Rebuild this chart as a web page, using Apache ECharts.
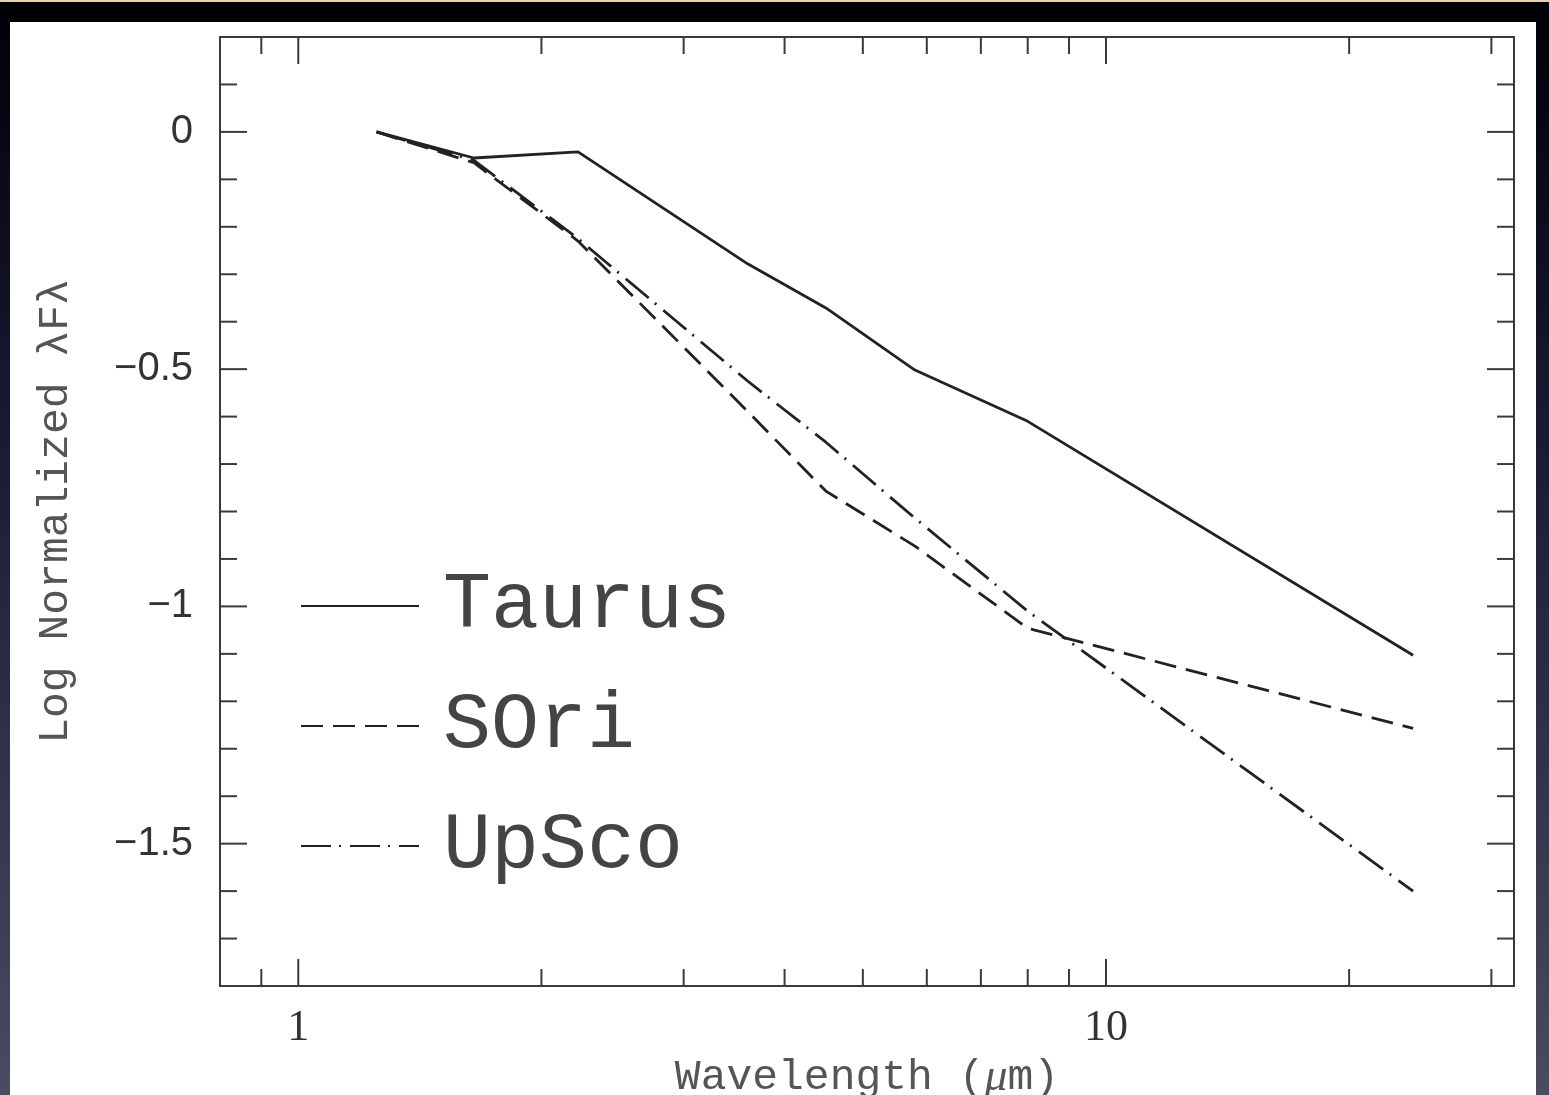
<!DOCTYPE html>
<html>
<head>
<meta charset="utf-8">
<script src="https://cdn.jsdelivr.net/npm/echarts@6/dist/echarts.min.js"></script>
<style>
  html, body { margin: 0; padding: 0; }
  #wrap { position: relative; width: 1549px; height: 1095px; overflow: hidden; background: #000; }
  #topline { position: absolute; left: 0; top: 0; width: 1549px; height: 2px; background: #e4d4aa; }
  #leftstrip { position: absolute; left: 0; top: 2px; width: 10px; height: 1093px; background: linear-gradient(#000008, #1a1a34 40%, #4a4a60); }
  #rightstrip { position: absolute; left: 1536px; top: 2px; width: 13px; height: 1093px; background: linear-gradient(#000008, #1a1a34 40%, #4a4a60); }
  #panel { position: absolute; left: 10px; top: 22px; width: 1526px; height: 1073px; background: #fff; }
  #chart { position: absolute; left: 0; top: 0; width: 1549px; height: 1095px; }
</style>
</head>
<body>
<div id="wrap">
  <div id="topline"></div>
  <div id="leftstrip"></div>
  <div id="rightstrip"></div>
  <div id="panel"></div>
  <div id="chart"></div>
</div>
<script>
// ---- data ----
const wavelengths = [1.25, 1.65, 2.22, 3.6, 4.5, 5.8, 8.0, 24];
const taurus = [0, -0.055, -0.042, -0.278, -0.371, -0.502, -0.61, -1.103];
const sori   = [0, -0.065, -0.23, -0.589, -0.757, -0.873, -1.046, -1.257];
const upsco  = [0, -0.06, -0.225, -0.525, -0.654, -0.814, -1.01, -1.6];
const seriesNames = ['Taurus', 'SOri', 'UpSco'];

const xTickValues = [0.9, 1, 2, 3, 4, 5, 6, 7, 8, 9, 10, 20, 30];
const xMajorTicks = [1, 10];
const yTickValues = [0.1, 0, -0.1, -0.2, -0.3, -0.4, -0.5, -0.6, -0.7, -0.8, -0.9, -1, -1.1, -1.2, -1.3, -1.4, -1.5, -1.6, -1.7];
const yMajorTicks = [0, -0.5, -1, -1.5];

const X_MIN = 0.8, X_MAX = 32, Y_MIN = -1.8, Y_MAX = 0.2;

// ---- tick data for custom series: [x, y, length, dir] ----
// dir: 0 = up from bottom, 1 = down from top, 2 = right from left, 3 = left from right
const tickData = [];
xTickValues.forEach(v => {
  const len = xMajorTicks.includes(v) ? 27 : 17;
  tickData.push([v, Y_MIN, len, 0]);
  tickData.push([v, Y_MAX, len, 1]);
});
yTickValues.forEach(v => {
  const len = yMajorTicks.some(m => Math.abs(m - v) < 1e-9) ? 27 : 17;
  tickData.push([X_MIN, v, len, 2]);
  tickData.push([X_MAX, v, len, 3]);
});

function pair(xs, ys) { return xs.map((x, i) => [x, ys[i]]); }

const lineColor = '#222';
const chart = echarts.init(document.getElementById('chart'), null, { renderer: 'canvas' });

chart.setOption({
  animation: false,
  backgroundColor: 'transparent',
  grid: {
    left: 220, top: 37, right: 35, bottom: 109,
    outerBoundsMode: 'none', containLabel: false,
    show: true, borderColor: '#3a3a3a', borderWidth: 2, backgroundColor: 'transparent'
  },
  legend: {
    orient: 'vertical',
    left: 295, top: 561,
    itemWidth: 118, itemHeight: 40, itemGap: 40,
    data: seriesNames,
    itemStyle: { opacity: 0 },
    textStyle: {
      fontFamily: 'Liberation Mono', fontSize: 80, lineHeight: 80,
      color: '#444', padding: [0, 0, 0, 19]
    }
  },
  xAxis: {
    type: 'log', logBase: 10, min: X_MIN, max: X_MAX,
    axisLine: { show: false },
    axisTick: { show: false },
    splitLine: { show: false },
    minorTick: { show: false },
    axisLabel: {
      margin: 20,
      fontFamily: 'Liberation Serif', fontSize: 44, color: '#333',
      showMinLabel: false, showMaxLabel: false,
      formatter: function (v) {
        const l = Math.log10(v);
        return Math.abs(l - Math.round(l)) < 1e-6 ? String(Math.round(v)) : '';
      }
    },
    name: '{a|Wavelength (}{b|μ}{a|m)}',
    nameLocation: 'middle', nameGap: 63,
    nameTextStyle: {
      rich: {
        a: { fontFamily: 'Liberation Mono', fontSize: 43, color: '#555' },
        b: { fontFamily: 'Liberation Serif', fontStyle: 'italic', fontSize: 46, color: '#555' }
      }
    }
  },
  yAxis: {
    type: 'value', min: Y_MIN, max: Y_MAX, interval: 0.1,
    axisLine: { show: false },
    axisTick: { show: false },
    splitLine: { show: false },
    axisLabel: {
      margin: 27,
      fontFamily: 'Liberation Sans', fontSize: 40, color: '#333',
      formatter: function (v) {
        if (Math.abs(v * 2 - Math.round(v * 2)) > 1e-6) return '';
        if (Math.abs(v) < 1e-9) return '0';
        const s = String(Math.round(v * 10) / 10);
        return s.replace('-', '\u2212');
      }
    },
    name: 'Log Normalized λFλ',
    nameLocation: 'middle', nameGap: 143,
    nameTextStyle: { fontFamily: 'Liberation Mono', fontSize: 43, color: '#555' }
  },
  series: [
    {
      name: 'Taurus', type: 'line', symbol: 'none', data: pair(wavelengths, taurus),
      lineStyle: { color: lineColor, width: 2.8, type: 'solid' }, itemStyle: { color: lineColor }
    },
    {
      name: 'SOri', type: 'line', symbol: 'none', data: pair(wavelengths, sori),
      lineStyle: { color: lineColor, width: 2.8, type: [22, 10] }, itemStyle: { color: lineColor }
    },
    {
      name: 'UpSco', type: 'line', symbol: 'none', data: pair(wavelengths, upsco),
      lineStyle: { color: lineColor, width: 2.8, type: [30, 8, 2, 9] }, itemStyle: { color: lineColor }
    },
    {
      type: 'custom', name: 'ticks', silent: true, clip: false,
      data: tickData,
      renderItem: function (params, api) {
        const p = api.coord([api.value(0), api.value(1)]);
        const len = api.value(2), dir = api.value(3);
        let x2 = p[0], y2 = p[1];
        if (dir === 0) y2 = p[1] - len;
        else if (dir === 1) y2 = p[1] + len;
        else if (dir === 2) x2 = p[0] + len;
        else x2 = p[0] - len;
        return {
          type: 'line',
          shape: { x1: p[0], y1: p[1], x2: x2, y2: y2 },
          style: { stroke: '#3a3a3a', lineWidth: 2 }
        };
      }
    }
  ]
});
</script>
</body>
</html>
